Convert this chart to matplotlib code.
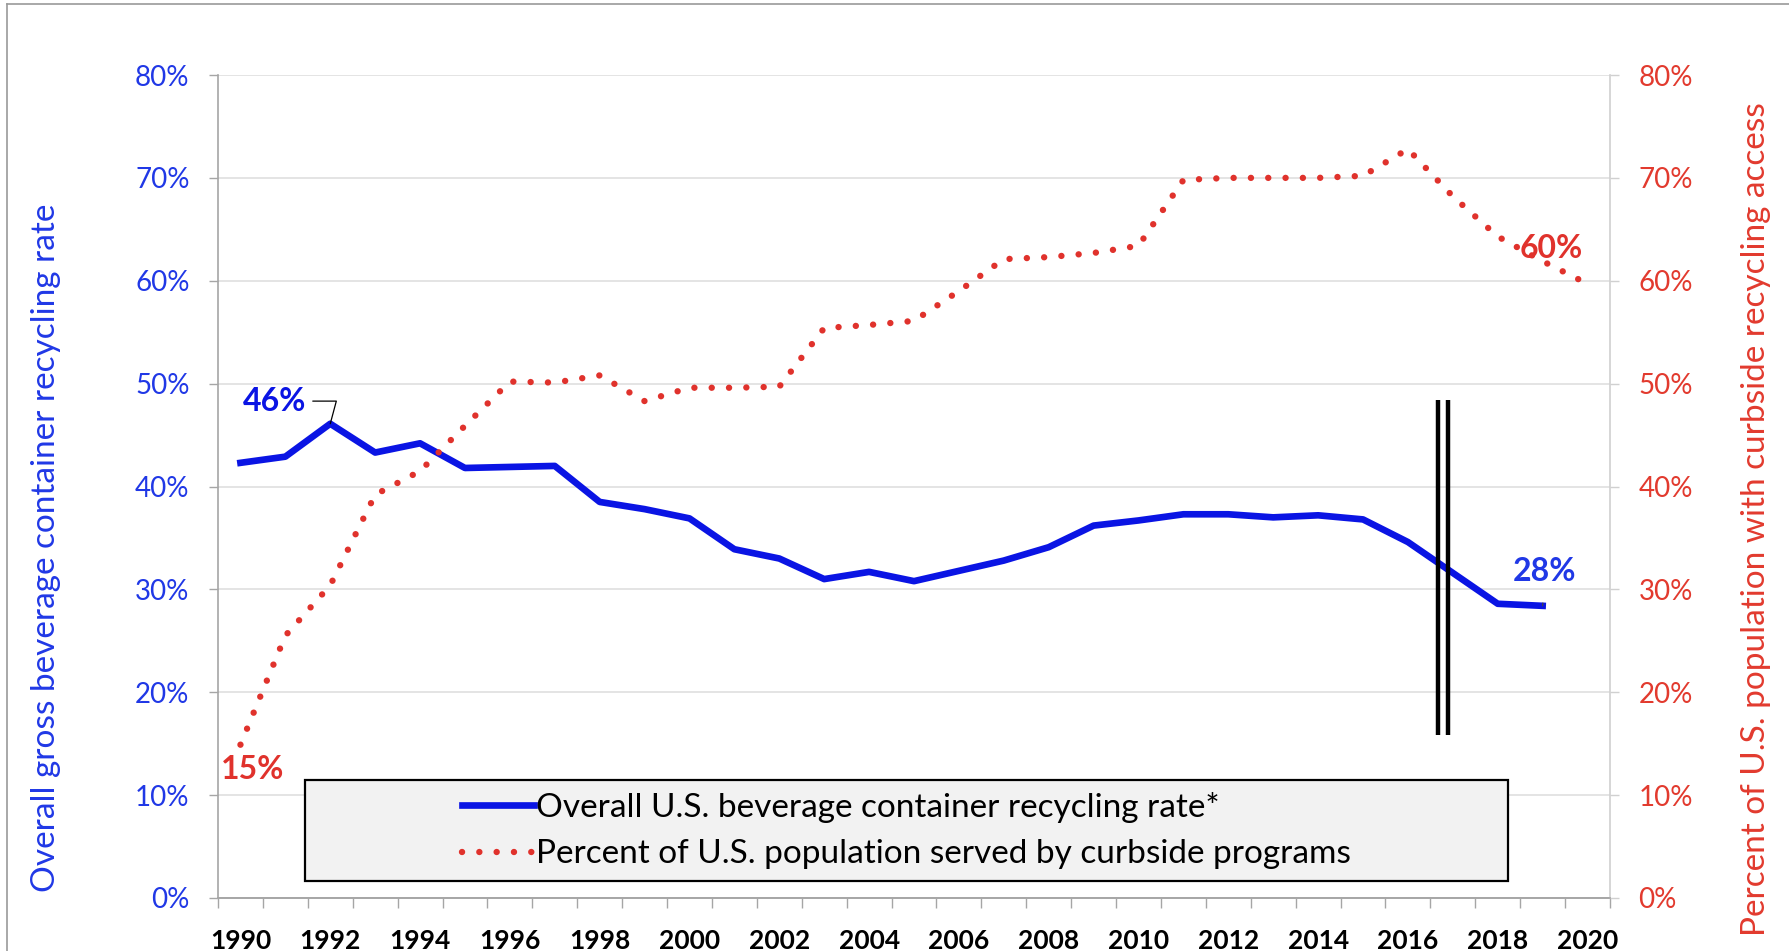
import matplotlib.pyplot as plt
from matplotlib.lines import Line2D
from matplotlib.patches import Rectangle

plt.rcParams['font.family'] = ['Lato', 'DejaVu Sans']

# data
years_rate = list(range(1990, 2020))
rate = [42.3, 42.9, 46.1, 43.3, 44.2, 41.8, 41.9, 42.0, 38.5, 37.8,
        36.9, 33.9, 33.0, 31.0, 31.7, 30.8, 31.8, 32.8, 34.1, 36.2,
        36.7, 37.3, 37.3, 37.0, 37.2, 36.8, 34.6, 31.6, 28.6, 28.4]

years_curb = list(range(1990, 2021))
curbside = [14.9, 25.5, 30.4, 39.2, 41.5, 45.9, 50.2, 50.1, 50.8, 48.3,
            49.6, 49.6, 49.7, 55.4, 55.7, 56.1, 59.0, 62.1, 62.3, 62.7,
            63.4, 69.8, 70.0, 70.0, 70.0, 70.2, 72.8, 68.2, 64.3, 61.9, 59.7]

label_rate = "Overall U.S. beverage container recycling rate*"
label_curb = "Percent of U.S. population served by curbside programs"

blue = '#0A14E4'
blue_txt = '#2038E6'
red = '#E0322C'
red_txt = '#E23A2E'
grey = '#A6A6A6'
fs = 20

fig = plt.figure(figsize=(17.89, 9.51), dpi=100)
ax = fig.add_axes([218 / 1789, 1 - 898 / 951, (1610 - 218) / 1789, (898 - 75) / 951])
ax2 = ax.twinx()

for a in (ax, ax2):
    a.set_ylim(0, 80)
    a.set_yticks(range(0, 81, 10))
    a.set_yticklabels([f"{v}%" for v in range(0, 81, 10)])
    a.spines['top'].set_visible(False)
    for s in ('left', 'right', 'bottom'):
        a.spines[s].set_color(grey)
        a.spines[s].set_linewidth(1.2)
ax.spines['right'].set_visible(False)
ax2.spines['left'].set_visible(False)
ax2.spines['right'].set_color('#D0D0D0')

ax.yaxis.grid(True, color='#DCDCDC', lw=1.1)
ax.set_axisbelow(True)

ax.tick_params(axis='y', colors=grey, labelcolor=blue_txt, labelsize=fs, length=6.5, width=1, pad=14)
ax2.tick_params(axis='y', colors='#D0D0D0', labelcolor=red_txt, labelsize=fs, length=6.5, width=1, pad=14)

# category axis: labels every second year, ticks between categories
ax.set_xlim(1989.5, 2020.5)
ax.set_xticks(list(range(1990, 2021, 2)))
ax.set_xticklabels([str(y) for y in range(1990, 2021, 2)], fontweight='bold', fontsize=fs - 1)
ax.set_xticks([y - 0.5 for y in range(1990, 2022)], minor=True)
ax.tick_params(axis='x', which='major', length=0, pad=22, labelcolor='black')
ax.tick_params(axis='x', which='minor', length=7, width=1, color=grey)

ax.set_ylabel("Overall gross beverage container recycling rate", color=blue_txt, fontsize=24)
ax.yaxis.set_label_coords(-0.113, 0.425)
ax2.set_ylabel("Percent of U.S. population with curbside recycling access", color=red_txt, fontsize=24)
ax2.yaxis.set_label_coords(1.094, 0.46)

l1, = ax.plot(years_rate, rate, color=blue, lw=4.8, solid_joinstyle='round', label=label_rate)
l2, = ax2.plot(years_curb, curbside, color=red, lw=4.6, linestyle=(0, (0.01, 2.7)),
               dash_capstyle='round', label=label_curb)

# value call-outs
ax.annotate("46%", xy=(1992, 46.1), xytext=(1990.75, 48.3), ha='center', va='center',
            color=blue, fontsize=23, fontweight='bold',
            arrowprops=dict(arrowstyle='-', color='black', lw=0.9, shrinkA=3, shrinkB=0,
                            connectionstyle='angle,angleA=0,angleB=75,rad=0'))
ax.annotate("28%", xy=(2019, 28.4), xytext=(2019.05, 31.7), ha='center', va='center',
            color=blue_txt, fontsize=23, fontweight='bold',
            arrowprops=dict(arrowstyle='-', color='#444444', lw=0.9, shrinkA=10, shrinkB=0))
ax2.text(1990.28, 12.5, "15%", ha='center', va='center', color=red,
         fontsize=23, fontweight='bold')
ax2.text(2019.2, 63.1, "60%", ha='center', va='center', color=red,
         fontsize=23, fontweight='bold')

# axis break marker
break_x = [2016.67, 2016.89]
ax2.vlines(break_x, 15.8, 48.4, color='black', lw=3.2, zorder=5)

# legend box
ax2.add_patch(Rectangle((0.0625, 0.0207), 0.8642, 0.1227, transform=ax2.transAxes,
                        facecolor='#F2F2F2', edgecolor='black', lw=1.6, zorder=6))
leg = ax2.legend(handles=[l1, l2], loc='center', bbox_to_anchor=(0.4946, 0.082),
                 frameon=False, fontsize=24, handlelength=2.15, handletextpad=0.08,
                 labelspacing=0.5)
leg.set_zorder(7)

# outer frame of the picture
fig.add_artist(Line2D([7 / 1789, 7 / 1789], [0, 1 - 4 / 951], color='#9A9A9A', lw=1.2))
fig.add_artist(Line2D([7 / 1789, 1], [1 - 4 / 951, 1 - 4 / 951], color='#9A9A9A', lw=1.2))

fig.savefig("out.png", dpi=100)
